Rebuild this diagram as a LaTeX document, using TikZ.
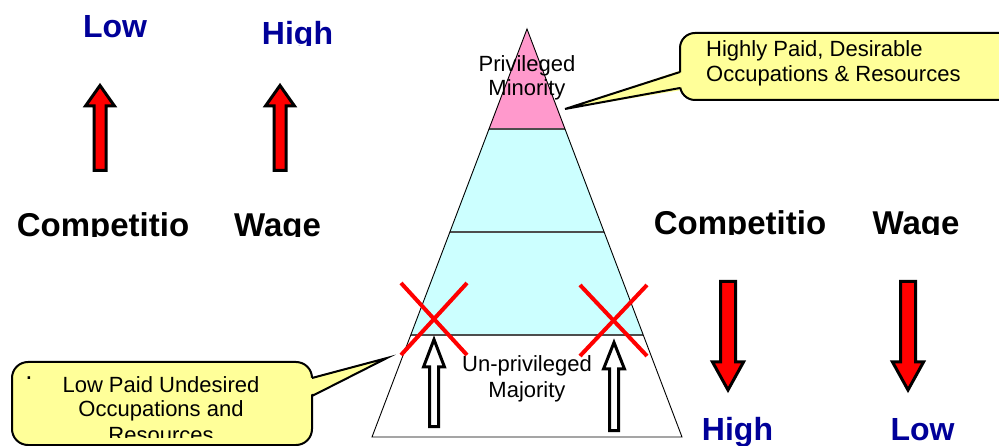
\documentclass[tikz,border=0pt]{standalone}
\usepackage{fontspec}
\setmainfont{Liberation Sans}
\definecolor{navy}{HTML}{000099}
\definecolor{pinkfill}{HTML}{FF99CC}
\definecolor{cyanfill}{HTML}{CCFFFF}
\definecolor{calloutfill}{HTML}{FFFF99}
\definecolor{bandline}{HTML}{4D4D4D}
% #1 cx, #2 tip y, #3 head-base y, #4 tail y, #5 head half width, #6 shaft half width, #7 fill
\newcommand\vArrowShape[7]{%
  \draw[blockarrow, fill=#7] (#1,#2) -- ({#1+#5},#3) -- ({#1+#6},#3) -- ({#1+#6},#4)
    -- ({#1-#6},#4) -- ({#1-#6},#3) -- ({#1-#5},#3) -- cycle;}
\begin{document}
\begin{tikzpicture}[x=1pt,y=-1pt,
  bigword/.style={anchor=base, inner sep=0pt, font=\fontsize{33}{38}\selectfont\bfseries},
  levelword/.style={anchor=base, inner sep=0pt, text=navy, font=\fontsize{32}{38}\selectfont\bfseries},
  smalltext/.style={anchor=base, inner sep=0pt, font=\fontsize{22}{25}\selectfont},
  blockarrow/.style={draw=black, line width=3pt, line join=miter},
  crossline/.style={draw=red, line width=4pt},
  bandsep/.style={draw=bandline, line width=2pt},
  calloutbody/.style={fill=calloutfill, draw=black, line width=2pt},
  calloutedge/.style={draw=black, line width=2pt, line join=miter}]
\useasboundingbox (0,0) rectangle (999,446);
\clip (0,0) rectangle (999,446);

% ---------- pyramid ----------
\coordinate (apex) at (527,29);
\coordinate (p1l) at (488.6,129); \coordinate (p1r) at (565.4,129);
\coordinate (p2l) at (449.9,232); \coordinate (p2r) at (604.1,232);
\coordinate (p3l) at (410.7,335); \coordinate (p3r) at (643.3,335);
\coordinate (bl) at (372,437);   \coordinate (br) at (682,437);
\fill[pinkfill] (apex) -- (p1r) -- (p1l) -- cycle;
\fill[cyanfill] (p1l) -- (p1r) -- (p3r) -- (p3l) -- cycle;
\draw[bandsep] (p1l) -- (p1r);
\draw[bandsep] (p2l) -- (p2r);
\draw[bandsep] (p3l) -- (p3r);
\draw[black, line width=0.9pt] (apex) -- (br) -- (bl) -- cycle;

\node[smalltext] (priv1) at (527,72) {Privileged};
\node[smalltext] (priv2) at (527,96) {Minority};
\node[smalltext] (unpriv1) at (527,372) {Un-privileged};
\node[smalltext] (unpriv2) at (527,397) {Majority};

% ---------- top callout ----------
\fill[calloutfill] (565,109) -- (682,70) -- (682,90) -- cycle;
\draw[calloutbody, rounded corners=15] (680,33) rectangle (1015,100);
\fill[calloutfill] (565,109) -- (678,72.5) -- (683,72.5) -- (683,87.5) -- (678,87.5) -- cycle;
\draw[calloutedge] (680,72) -- (565,109) -- (680,88);
\node[smalltext, anchor=base west] (hp1) at (706,57) {Highly Paid, Desirable};
\node[smalltext, anchor=base west] (hp2) at (706,82) {Occupations \& Resources};

% ---------- bottom callout ----------
\fill[calloutfill] (387,358) -- (310,378) -- (310,396) -- cycle;
\draw[calloutbody, rounded corners=16] (12,362) rectangle (312,445);
\fill[calloutfill] (387,358) -- (309,378.5) -- (309,395.5) -- cycle;
\draw[calloutedge] (312,378) -- (387,358) -- (312,396);
\node[smalltext, font=\fontsize{26}{28}\selectfont] (dot) at (29,380) {.};
\begin{scope}
  \clip (0,340) rectangle (400,437);
  \node[smalltext] (lp1) at (161,392) {Low Paid Undesired};
  \node[smalltext] (lp2) at (161,417) {Occupations and};
  \node[smalltext] (lp3) at (161,442) {Resources};
\end{scope}

% ---------- left side ----------
\node[levelword] (lowL) at (115,38) {Low};
\begin{scope}
  \clip (200,0) rectangle (360,46);
  \node[levelword] (highL) at (297.5,45) {High};
\end{scope}
\vArrowShape{100}{85.5}{106}{170.5}{14.5}{6}{red}
\vArrowShape{280}{85.5}{106}{170.5}{14.5}{6}{red}
\begin{scope}
  \clip (0,180) rectangle (360,237);
  \node[bigword] (compL) at (103,237) {Competitio};
  \node[bigword] (wageL) at (277.5,237) {Wage};
\end{scope}

% ---------- right side ----------
\begin{scope}
  \clip (640,180) rectangle (999,234.5);
  \node[bigword] (compR) at (740,234.5) {Competitio};
  \node[bigword] (wageR) at (916,234.5) {Wage};
\end{scope}
\vArrowShape{728}{390}{362}{281.5}{15.5}{7.5}{red}
\vArrowShape{908}{390}{362}{281.5}{15.5}{7.5}{red}
\node[levelword] (highR) at (737.5,440) {High};
\node[levelword] (lowR) at (922.5,440) {Low};

% ---------- white arrows and crosses ----------
\vArrowShape{434}{339.5}{367}{426.5}{10.5}{4.5}{white}
\vArrowShape{614}{342.5}{369}{430.5}{10.5}{4.5}{white}
\draw[crossline] (401,283) -- (467,355);
\draw[crossline] (467,283) -- (401,355);
\draw[crossline] (580,285) -- (647,356);
\draw[crossline] (647,285) -- (580,356);
\end{tikzpicture}
\end{document}
